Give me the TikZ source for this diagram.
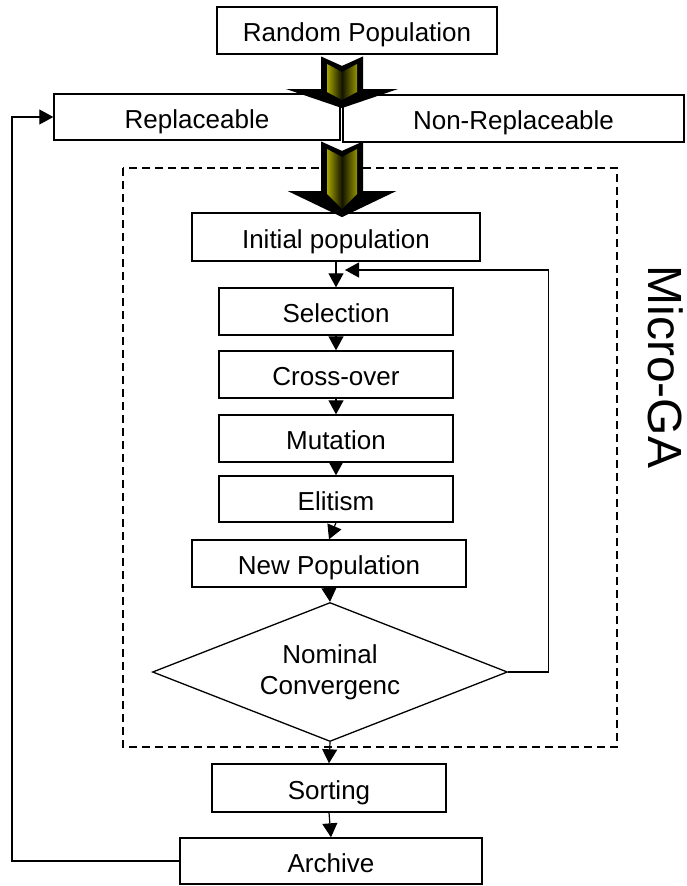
\documentclass[tikz,border=0pt]{standalone}
\usepackage{fontspec}
\setmainfont{Liberation Sans}
\usetikzlibrary{arrows.meta,
		shapes.geometric}

\begin{document}
\begin{tikzpicture}[x=1pt, y=-1pt,
  box/.style={draw, line width=1.4pt, inner sep=0pt, minimum height=47pt,
    text height=22pt, text depth=0pt, font=\fontsize{26}{30}\selectfont},
  test/.style={draw, diamond, aspect=2.55, line width=1.3pt, inner sep=0pt,
    align=center, font=\fontsize{26}{31}\selectfont},
  flow/.style={line width=1.2pt, -{Triangle[width=15pt, length=14pt]}},
  fat/.style={line width=2pt, line join=miter, draw=black, fill=black},
  fatcore/.style={left color=olive!70!yellow, right color=olive!85!yellow,
    middle color=black!85!olive}]

\useasboundingbox (0,0) rectangle (686,886);

\node [box, minimum width=280pt] (rand) at (357,30.5) {Random Population};
\node [box, minimum width=286pt, minimum height=46pt] (repl) at (197,117) {Replaceable};
\node [box, minimum width=341pt] (nonrepl) at (513.5,118.5) {Non-Replaceable};

% micro-GA loop
\draw [line width=1.3pt, dash pattern=on 8pt off 5pt] (123,168) rectangle (617,747);
\node [rotate=-90, inner sep=0pt, font=\fontsize{48}{54}\selectfont] (mga) at (666,367) {Micro-GA};

\node [box, minimum width=288pt, minimum height=48pt] (init) at (336,237) {Initial population};
\node [box, minimum width=234pt] (sel) at (336,311.5) {Selection};
\node [box, minimum width=234pt] (cross) at (336,374.5) {Cross-over};
\node [box, minimum width=234pt] (mut) at (336,438.5) {Mutation};
\node [box, minimum width=234pt, minimum height=46pt] (elit) at (336,499) {Elitism};
\node [box, minimum width=274pt] (newpop) at (329,563.5) {New Population};
\node [test, minimum width=355pt, minimum height=139pt] (conv) at (330,672) {Nominal\\Convergenc};

\node [box, minimum width=234pt, minimum height=48pt] (sort) at (329,788) {Sorting};
\node [box, minimum width=302pt, minimum height=46pt] (arch) at (331,861) {Archive};

\draw [flow] (init.south) -- (sel.north);
\draw [flow] (sel.south) -- (cross.north);
\draw [flow] (cross.south) -- (mut.north);
\draw [flow] (mut.south) -- (elit.north);
\draw [flow] (elit.south) -- (newpop.north);
\draw [flow] (newpop.south) -- (conv.north);
\draw [flow] (conv.south) -- (sort.north);
\draw [flow] (sort.south) -- (arch.north);

\coordinate (back) at (345,270);
\draw [flow] (conv.east) -- ++(40,0) |- (back);

\coordinate (fb) at (12,0);
\draw [flow] (arch.west) -- (arch.west -| fb) |- (repl.west);

% fat arrows
\foreach \t/\h/\p in {58/90/107, 143/192/216} {
  \draw [fat] (322,\t) -- (342,\t+9) -- (362,\t) -- (362,\h) -- (392,\h)
    -- (342,\p) -- (292,\h) -- (322,\h) -- cycle;
  \path [fatcore] (327,\t+6) -- (342,\t+14) -- (357,\t+6) -- (357,\h+2)
    -- (342,\p-7) -- (327,\h+2) -- cycle;
}

\end{tikzpicture}
\end{document}
